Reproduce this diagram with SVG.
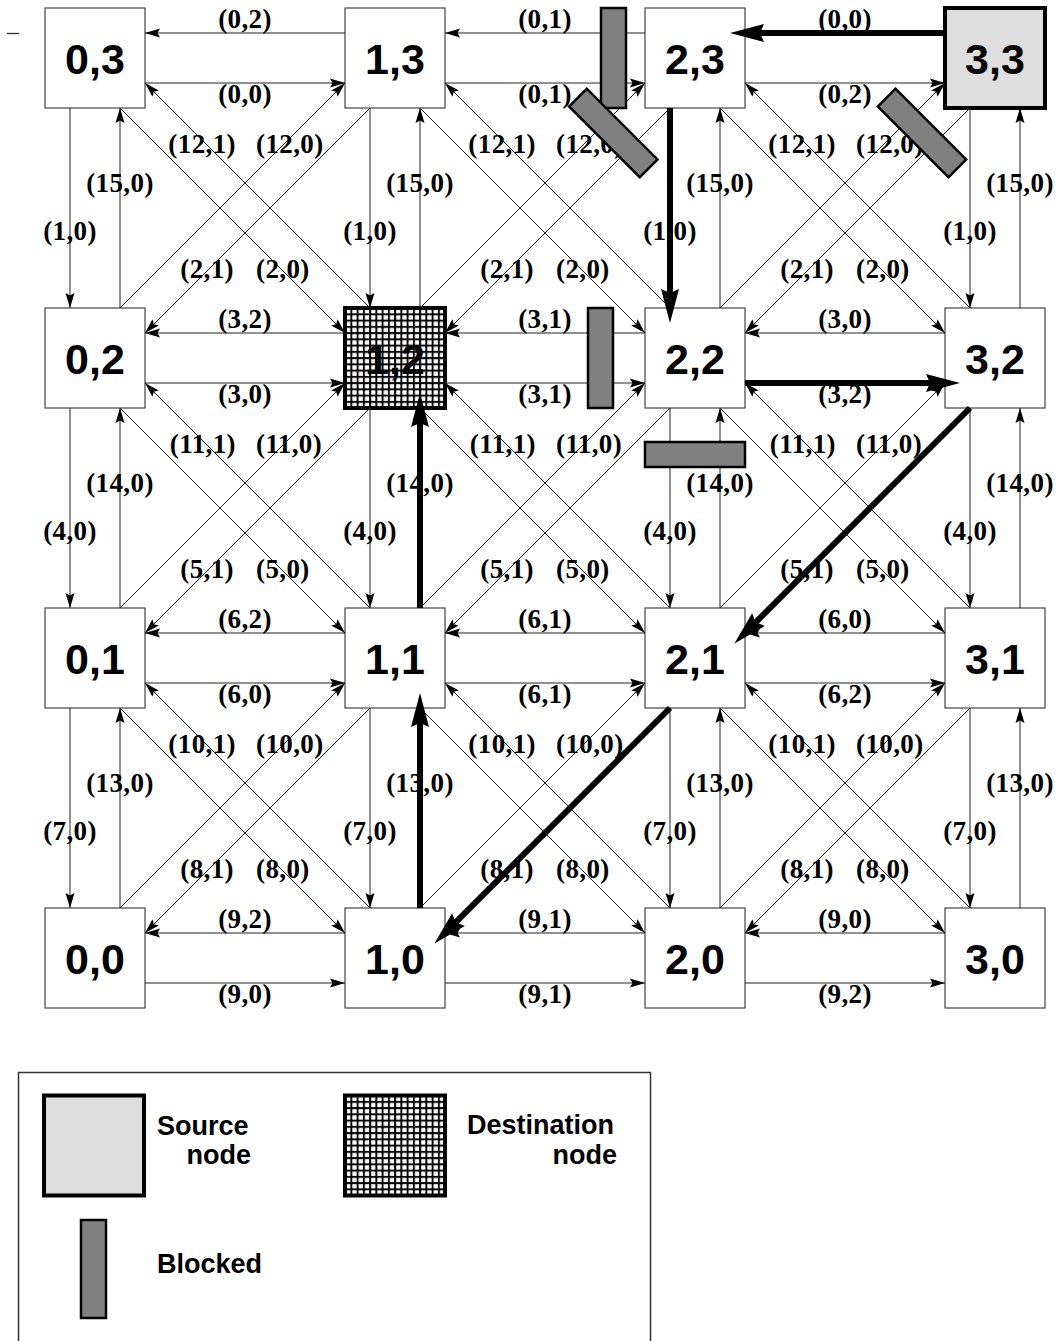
<svg xmlns="http://www.w3.org/2000/svg" width="1061" height="1341" viewBox="0 0 1061 1341">
<style>
.nd{fill:#fff;stroke:#444;stroke-width:1.2}
.src{fill:#dedede;stroke:#000;stroke-width:4}
.dst{fill:url(#grid);stroke:#000;stroke-width:4}
.blk{fill:#808080;stroke:#000;stroke-width:2.5}
.nl{font-family:"Liberation Sans",Arial,sans-serif;font-weight:bold;font-size:43px;text-anchor:middle;fill:#000}
.l{font-family:"Liberation Serif","Times New Roman",serif;font-weight:bold;font-size:27px;letter-spacing:0.4px;fill:#000}
.c{text-anchor:middle}
.e{text-anchor:end}
.s{text-anchor:start}
.lg{font-family:"Liberation Sans",Arial,sans-serif;font-weight:bold;font-size:27px;fill:#000}
.t{stroke:#222;stroke-width:1;fill:none;marker-end:url(#a)}
.k{stroke:#000;stroke-width:6;fill:none;marker-end:url(#ak)}
</style>
<defs>
<marker id="a" markerUnits="userSpaceOnUse" viewBox="-16 -6 17 12" refX="0" refY="0" markerWidth="17" markerHeight="12" orient="auto" overflow="visible">
<path d="M0,0 L-15,-4.5 L-12.5,0 L-15,4.5 Z" fill="#000"/>
</marker>
<marker id="ak" markerUnits="userSpaceOnUse" viewBox="-12 -11 40 22" refX="0" refY="0" markerWidth="40" markerHeight="22" orient="auto" overflow="visible">
<path d="M25,0 L-9,-9 L-5,0 L-9,9 Z" fill="#000"/>
</marker>
<pattern id="grid" patternUnits="objectBoundingBox" x="0" y="0" width="0.0625" height="0.0625" patternContentUnits="userSpaceOnUse">
<rect x="0" y="0" width="6.25" height="6.25" fill="#000"/>
<rect x="1.1" y="1.1" width="4.3" height="4.3" fill="#fff"/>
</pattern>
</defs>
<rect x="0" y="0" width="1061" height="1341" fill="#fff"/>
<line x1="7" y1="33.5" x2="19" y2="33.5" stroke="#333" stroke-width="1.3"/>

<g id="nodes">
<g id="n-0-3"><rect class="nd" x="45" y="8" width="100" height="100"/><text class="nl" x="95" y="74">0,3</text></g>
<g id="n-1-3"><rect class="nd" x="345" y="8" width="100" height="100"/><text class="nl" x="395" y="74">1,3</text></g>
<g id="n-2-3"><rect class="nd" x="645" y="8" width="100" height="100"/><text class="nl" x="695" y="74">2,3</text></g>
<g id="n-3-3"><rect class="src" x="945" y="8" width="100" height="100"/><text class="nl" x="995" y="74">3,3</text></g>
<g id="n-0-2"><rect class="nd" x="45" y="308" width="100" height="100"/><text class="nl" x="95" y="374">0,2</text></g>
<g id="n-1-2"><rect class="dst" x="345" y="308" width="100" height="100"/><text class="nl" x="395" y="374">1,2</text></g>
<g id="n-2-2"><rect class="nd" x="645" y="308" width="100" height="100"/><text class="nl" x="695" y="374">2,2</text></g>
<g id="n-3-2"><rect class="nd" x="945" y="308" width="100" height="100"/><text class="nl" x="995" y="374">3,2</text></g>
<g id="n-0-1"><rect class="nd" x="45" y="608" width="100" height="100"/><text class="nl" x="95" y="674">0,1</text></g>
<g id="n-1-1"><rect class="nd" x="345" y="608" width="100" height="100"/><text class="nl" x="395" y="674">1,1</text></g>
<g id="n-2-1"><rect class="nd" x="645" y="608" width="100" height="100"/><text class="nl" x="695" y="674">2,1</text></g>
<g id="n-3-1"><rect class="nd" x="945" y="608" width="100" height="100"/><text class="nl" x="995" y="674">3,1</text></g>
<g id="n-0-0"><rect class="nd" x="45" y="908" width="100" height="100"/><text class="nl" x="95" y="974">0,0</text></g>
<g id="n-1-0"><rect class="nd" x="345" y="908" width="100" height="100"/><text class="nl" x="395" y="974">1,0</text></g>
<g id="n-2-0"><rect class="nd" x="645" y="908" width="100" height="100"/><text class="nl" x="695" y="974">2,0</text></g>
<g id="n-3-0"><rect class="nd" x="945" y="908" width="100" height="100"/><text class="nl" x="995" y="974">3,0</text></g>
</g>

<g id="connectors">
<line class="t" x1="345" y1="33" x2="145" y2="33"/><line class="t" x1="145" y1="83" x2="345" y2="83"/>
<line class="t" x1="645" y1="33" x2="445" y2="33"/><line class="t" x1="445" y1="83" x2="645" y2="83"/>
<line class="t" x1="745" y1="83" x2="945" y2="83"/>
<line class="t" x1="345" y1="333" x2="145" y2="333"/><line class="t" x1="145" y1="383" x2="345" y2="383"/>
<line class="t" x1="645" y1="333" x2="445" y2="333"/><line class="t" x1="445" y1="383" x2="645" y2="383"/>
<line class="t" x1="945" y1="333" x2="745" y2="333"/>
<line class="t" x1="345" y1="633" x2="145" y2="633"/><line class="t" x1="145" y1="683" x2="345" y2="683"/>
<line class="t" x1="645" y1="633" x2="445" y2="633"/><line class="t" x1="445" y1="683" x2="645" y2="683"/>
<line class="t" x1="945" y1="633" x2="745" y2="633"/><line class="t" x1="745" y1="683" x2="945" y2="683"/>
<line class="t" x1="345" y1="933" x2="145" y2="933"/><line class="t" x1="145" y1="983" x2="345" y2="983"/>
<line class="t" x1="645" y1="933" x2="445" y2="933"/><line class="t" x1="445" y1="983" x2="645" y2="983"/>
<line class="t" x1="945" y1="933" x2="745" y2="933"/><line class="t" x1="745" y1="983" x2="945" y2="983"/>
<line class="t" x1="70" y1="108" x2="70" y2="308"/><line class="t" x1="120" y1="308" x2="120" y2="108"/>
<line class="t" x1="370" y1="108" x2="370" y2="308"/><line class="t" x1="420" y1="308" x2="420" y2="108"/>
<line class="t" x1="720" y1="308" x2="720" y2="108"/>
<line class="t" x1="970" y1="108" x2="970" y2="308"/><line class="t" x1="1020" y1="308" x2="1020" y2="108"/>
<line class="t" x1="70" y1="408" x2="70" y2="608"/><line class="t" x1="120" y1="608" x2="120" y2="408"/>
<line class="t" x1="370" y1="408" x2="370" y2="608"/>
<line class="t" x1="670" y1="408" x2="670" y2="608"/><line class="t" x1="720" y1="608" x2="720" y2="408"/>
<line class="t" x1="970" y1="408" x2="970" y2="608"/><line class="t" x1="1020" y1="608" x2="1020" y2="408"/>
<line class="t" x1="70" y1="708" x2="70" y2="908"/><line class="t" x1="120" y1="908" x2="120" y2="708"/>
<line class="t" x1="370" y1="708" x2="370" y2="908"/>
<line class="t" x1="670" y1="708" x2="670" y2="908"/><line class="t" x1="720" y1="908" x2="720" y2="708"/>
<line class="t" x1="970" y1="708" x2="970" y2="908"/><line class="t" x1="1020" y1="908" x2="1020" y2="708"/>
<line class="t" x1="120" y1="108" x2="345" y2="333"/><line class="t" x1="370" y1="308" x2="145" y2="83"/>
<line class="t" x1="120" y1="308" x2="345" y2="83"/><line class="t" x1="370" y1="108" x2="145" y2="333"/>
<line class="t" x1="420" y1="108" x2="645" y2="333"/><line class="t" x1="670" y1="308" x2="445" y2="83"/>
<line class="t" x1="420" y1="308" x2="645" y2="83"/><line class="t" x1="670" y1="108" x2="445" y2="333"/>
<line class="t" x1="720" y1="108" x2="945" y2="333"/><line class="t" x1="970" y1="308" x2="745" y2="83"/>
<line class="t" x1="720" y1="308" x2="945" y2="83"/><line class="t" x1="970" y1="108" x2="745" y2="333"/>
<line class="t" x1="120" y1="408" x2="345" y2="633"/><line class="t" x1="370" y1="608" x2="145" y2="383"/>
<line class="t" x1="120" y1="608" x2="345" y2="383"/><line class="t" x1="370" y1="408" x2="145" y2="633"/>
<line class="t" x1="420" y1="408" x2="645" y2="633"/><line class="t" x1="670" y1="608" x2="445" y2="383"/>
<line class="t" x1="420" y1="608" x2="645" y2="383"/><line class="t" x1="670" y1="408" x2="445" y2="633"/>
<line class="t" x1="720" y1="408" x2="945" y2="633"/><line class="t" x1="970" y1="608" x2="745" y2="383"/>
<line class="t" x1="720" y1="608" x2="945" y2="383"/>
<line class="t" x1="120" y1="708" x2="345" y2="933"/><line class="t" x1="370" y1="908" x2="145" y2="683"/>
<line class="t" x1="120" y1="908" x2="345" y2="683"/><line class="t" x1="370" y1="708" x2="145" y2="933"/>
<line class="t" x1="420" y1="708" x2="645" y2="933"/><line class="t" x1="670" y1="908" x2="445" y2="683"/>
<line class="t" x1="420" y1="908" x2="645" y2="683"/>
<line class="t" x1="720" y1="708" x2="945" y2="933"/><line class="t" x1="970" y1="908" x2="745" y2="683"/>
<line class="t" x1="720" y1="908" x2="945" y2="683"/><line class="t" x1="970" y1="708" x2="745" y2="933"/>
<line class="k" x1="945" y1="33" x2="755" y2="33"/>
<line class="k" x1="670" y1="108" x2="670" y2="298"/>
<line class="k" x1="745" y1="383" x2="935" y2="383"/>
<line class="k" x1="970" y1="408" x2="752.1" y2="625.9"/>
<line class="k" x1="670" y1="708" x2="452.1" y2="925.9"/>
<line class="k" x1="420" y1="908" x2="420" y2="718"/>
<line class="k" x1="420" y1="608" x2="420" y2="418"/>
</g>

<g id="labels" class="l">
<text class="c" x="245" y="28">(0,2)</text><text class="c" x="545" y="28">(0,1)</text><text class="c" x="845" y="28">(0,0)</text>
<text class="c" x="245" y="103">(0,0)</text><text class="c" x="545" y="103">(0,1)</text><text class="c" x="845" y="103">(0,2)</text>
<text class="c" x="245" y="328">(3,2)</text><text class="c" x="545" y="328">(3,1)</text><text class="c" x="845" y="328">(3,0)</text>
<text class="c" x="245" y="403">(3,0)</text><text class="c" x="545" y="403">(3,1)</text><text class="c" x="845" y="403">(3,2)</text>
<text class="c" x="245" y="628">(6,2)</text><text class="c" x="545" y="628">(6,1)</text><text class="c" x="845" y="628">(6,0)</text>
<text class="c" x="245" y="703">(6,0)</text><text class="c" x="545" y="703">(6,1)</text><text class="c" x="845" y="703">(6,2)</text>
<text class="c" x="245" y="928">(9,2)</text><text class="c" x="545" y="928">(9,1)</text><text class="c" x="845" y="928">(9,0)</text>
<text class="c" x="245" y="1003">(9,0)</text><text class="c" x="545" y="1003">(9,1)</text><text class="c" x="845" y="1003">(9,2)</text>
<text class="c" x="120" y="192">(15,0)</text><text class="c" x="420" y="192">(15,0)</text><text class="c" x="720" y="192">(15,0)</text><text class="c" x="1020" y="192">(15,0)</text>
<text class="c" x="70" y="240">(1,0)</text><text class="c" x="370" y="240">(1,0)</text><text class="c" x="670" y="240">(1,0)</text><text class="c" x="970" y="240">(1,0)</text>
<text class="c" x="120" y="492">(14,0)</text><text class="c" x="420" y="492">(14,0)</text><text class="c" x="720" y="492">(14,0)</text><text class="c" x="1020" y="492">(14,0)</text>
<text class="c" x="70" y="540">(4,0)</text><text class="c" x="370" y="540">(4,0)</text><text class="c" x="670" y="540">(4,0)</text><text class="c" x="970" y="540">(4,0)</text>
<text class="c" x="120" y="792">(13,0)</text><text class="c" x="420" y="792">(13,0)</text><text class="c" x="720" y="792">(13,0)</text><text class="c" x="1020" y="792">(13,0)</text>
<text class="c" x="70" y="840">(7,0)</text><text class="c" x="370" y="840">(7,0)</text><text class="c" x="670" y="840">(7,0)</text><text class="c" x="970" y="840">(7,0)</text>
<text class="e" x="236" y="153">(12,1)</text><text class="s" x="256" y="153">(12,0)</text>
<text class="e" x="536" y="153">(12,1)</text><text class="s" x="556" y="153">(12,0)</text>
<text class="e" x="836" y="153">(12,1)</text><text class="s" x="856" y="153">(12,0)</text>
<text class="e" x="234" y="278">(2,1)</text><text class="s" x="256" y="278">(2,0)</text>
<text class="e" x="534" y="278">(2,1)</text><text class="s" x="556" y="278">(2,0)</text>
<text class="e" x="834" y="278">(2,1)</text><text class="s" x="856" y="278">(2,0)</text>
<text class="e" x="236" y="453">(11,1)</text><text class="s" x="256" y="453">(11,0)</text>
<text class="e" x="536" y="453">(11,1)</text><text class="s" x="556" y="453">(11,0)</text>
<text class="e" x="836" y="453">(11,1)</text><text class="s" x="856" y="453">(11,0)</text>
<text class="e" x="234" y="578">(5,1)</text><text class="s" x="256" y="578">(5,0)</text>
<text class="e" x="534" y="578">(5,1)</text><text class="s" x="556" y="578">(5,0)</text>
<text class="e" x="834" y="578">(5,1)</text><text class="s" x="856" y="578">(5,0)</text>
<text class="e" x="236" y="753">(10,1)</text><text class="s" x="256" y="753">(10,0)</text>
<text class="e" x="536" y="753">(10,1)</text><text class="s" x="556" y="753">(10,0)</text>
<text class="e" x="836" y="753">(10,1)</text><text class="s" x="856" y="753">(10,0)</text>
<text class="e" x="234" y="878">(8,1)</text><text class="s" x="256" y="878">(8,0)</text>
<text class="e" x="534" y="878">(8,1)</text><text class="s" x="556" y="878">(8,0)</text>
<text class="e" x="834" y="878">(8,1)</text><text class="s" x="856" y="878">(8,0)</text>
</g>

<g id="blocked">
<rect class="blk" x="601" y="8" width="25" height="100"/>
<rect class="blk" x="-50" y="-12.5" width="100" height="25" transform="translate(613.3 133) rotate(45)"/>
<rect class="blk" x="-50" y="-12.5" width="100" height="25" transform="translate(922 133) rotate(45)"/>
<rect class="blk" x="588" y="308" width="25" height="100"/>
<rect class="blk" x="645" y="442" width="100" height="25"/>
</g>

<g id="legend">
<rect x="18.5" y="1072.5" width="632" height="300" fill="none" stroke="#333" stroke-width="1.5"/>
<rect class="src" x="44" y="1095.5" width="100" height="100"/>
<text class="lg" x="157" y="1135">Source</text>
<text class="lg" x="251" y="1164" text-anchor="end">node</text>
<rect class="dst" x="345" y="1095.5" width="100" height="100"/>
<text class="lg" x="467" y="1134">Destination</text>
<text class="lg" x="617" y="1164" text-anchor="end">node</text>
<rect class="blk" x="81" y="1220" width="25" height="98"/>
<text class="lg" x="157" y="1273">Blocked</text>
</g>
</svg>
